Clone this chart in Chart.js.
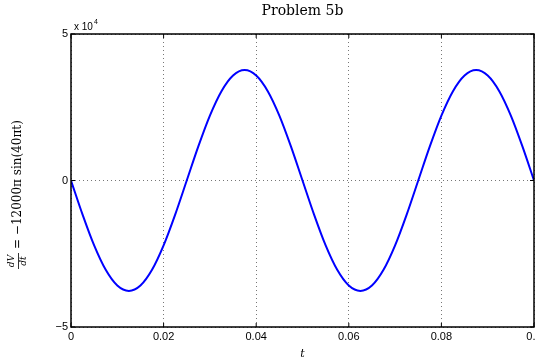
<!DOCTYPE html>
<html>
<head>
<meta charset="utf-8">
<script src="https://cdn.jsdelivr.net/npm/chart.js@4/dist/chart.umd.min.js"></script>
<style>
  html, body { margin: 0; padding: 0; background: #fff; }
  #wrap { width: 536px; height: 362px; }
</style>
</head>
<body>
<div id="wrap"><canvas id="chart"></canvas></div>
<script>
// t values (s) and dV/dt
const tValues = [0, 0.0025, 0.005, 0.0075, 0.01, 0.0125, 0.015, 0.0175, 0.02, 0.0225,
  0.025, 0.0275, 0.03, 0.0325, 0.035, 0.0375, 0.04, 0.0425, 0.045, 0.0475,
  0.05, 0.0525, 0.055, 0.0575, 0.06, 0.0625, 0.065, 0.0675, 0.07, 0.0725,
  0.075, 0.0775, 0.08, 0.0825, 0.085, 0.0875, 0.09, 0.0925, 0.095, 0.0975, 0.1];
const dvdt = [0, -11650, -22160, -30500, -35860, -37700, -35860, -30500, -22160, -11650,
  0, 11650, 22160, 30500, 35860, 37700, 35860, 30500, 22160, 11650,
  0, -11650, -22160, -30500, -35860, -37700, -35860, -30500, -22160, -11650,
  0, 11650, 22160, 30500, 35860, 37700, 35860, 30500, 22160, 11650, 0];
const xTicks = [0, 0.02, 0.04, 0.06, 0.08, 0.1];
const yTicks = [-50000, 0, 50000];

const points = tValues.map((t, i) => ({ x: t, y: dvdt[i] }));

// titres, cadre et graduations a la maniere de MATLAB
const decorPlugin = {
  id: 'decor',
  afterDraw(chart) {
    const { ctx, chartArea: a, scales } = chart;
    ctx.save();
    ctx.strokeStyle = '#000';
    ctx.lineWidth = 1.5;
    ctx.strokeRect(a.left, a.top, a.right - a.left, a.bottom - a.top);

    ctx.lineWidth = 1;
    ctx.beginPath();
    xTicks.forEach(v => {
      const x = scales.x.getPixelForValue(v);
      ctx.moveTo(x, a.bottom); ctx.lineTo(x, a.bottom - 4);
      ctx.moveTo(x, a.top); ctx.lineTo(x, a.top + 4);
    });
    yTicks.forEach(v => {
      const y = scales.y.getPixelForValue(v);
      ctx.moveTo(a.left, y); ctx.lineTo(a.left + 4, y);
      ctx.moveTo(a.right, y); ctx.lineTo(a.right - 4, y);
    });
    ctx.stroke();

    ctx.fillStyle = '#000';
    // titre
    ctx.font = '14px "DejaVu Serif", serif';
    ctx.textAlign = 'center';
    ctx.textBaseline = 'middle';
    ctx.fillText('Problem 5b', (a.left + a.right) / 2, 11);

    // t
    ctx.font = 'italic 11px "DejaVu Serif", serif';
    ctx.fillText('t', (a.left + a.right) / 2, 354);

    // x 10^4
    ctx.font = '10px "Liberation Sans", sans-serif';
    ctx.textAlign = 'left';
    ctx.fillText('x 10', a.left + 3, 27);
    ctx.font = '7px "Liberation Sans", sans-serif';
    ctx.fillText('4', a.left + 23, 22);

    // etiquette y
    ctx.translate(18, 189);
    ctx.rotate(-Math.PI / 2);
    ctx.textAlign = 'center';
    ctx.font = 'italic 9px "DejaVu Serif", serif';
    ctx.fillText('dV', -72, -6);
    ctx.fillText('dt', -72, 6);
    ctx.lineWidth = 0.8;
    ctx.beginPath();
    ctx.moveTo(-80, 0.5); ctx.lineTo(-64, 0.5);
    ctx.stroke();
    ctx.textAlign = 'left';
    ctx.font = '12px "DejaVu Serif", serif';
    ctx.fillText('= \u221212000\u03c0 sin(40\u03c0t)', -60, 0);
    ctx.restore();
  }
};

const ctx = document.getElementById('chart').getContext('2d');
const chart = new Chart(ctx, {
  type: 'line',
  data: {
    datasets: [{
      data: points,
      borderColor: '#0000ff',
      borderWidth: 2,
      pointRadius: 0,
      cubicInterpolationMode: 'monotone',
      fill: false
    }]
  },
  options: {
    responsive: true,
    maintainAspectRatio: false,
    animation: false,
    layout: { padding: { left: 0, top: 34, right: 2, bottom: 0 } },
    plugins: { legend: { display: false }, tooltip: { enabled: false } },
    scales: {
      x: {
        type: 'linear',
        min: 0,
        max: 0.1,
        afterBuildTicks: s => { s.ticks = xTicks.map(v => ({ value: v })); },
        afterFit: s => { s.height = 35; s.paddingRight = 0; s.paddingLeft = 0; },
        grid: { color: '#777', drawTicks: false, lineWidth: 1 },
        border: { display: false, dash: [1, 3] },
        ticks: {
          color: '#000',
          padding: 3,
          maxRotation: 0,
          font: { family: 'Liberation Sans', size: 11 },
          callback: v => (v === 0.1 ? '0.1' : String(Number(v.toFixed(2))))
        }
      },
      y: {
        type: 'linear',
        min: -50000,
        max: 50000,
        afterBuildTicks: s => { s.ticks = yTicks.map(v => ({ value: v })); },
        afterFit: s => { s.width = 71; s.paddingTop = 0; s.paddingBottom = 0; },
        grid: { color: '#777', drawTicks: false, lineWidth: 1 },
        border: { display: false, dash: [1, 3] },
        ticks: {
          color: '#000',
          padding: 3,
          font: { family: 'Liberation Sans', size: 11 },
          callback: v => (v === 0 ? '0' : (v < 0 ? '\u2212' : '') + Math.abs(v / 10000))
        }
      }
    }
  },
  plugins: [decorPlugin]
});
</script>
</body>
</html>
